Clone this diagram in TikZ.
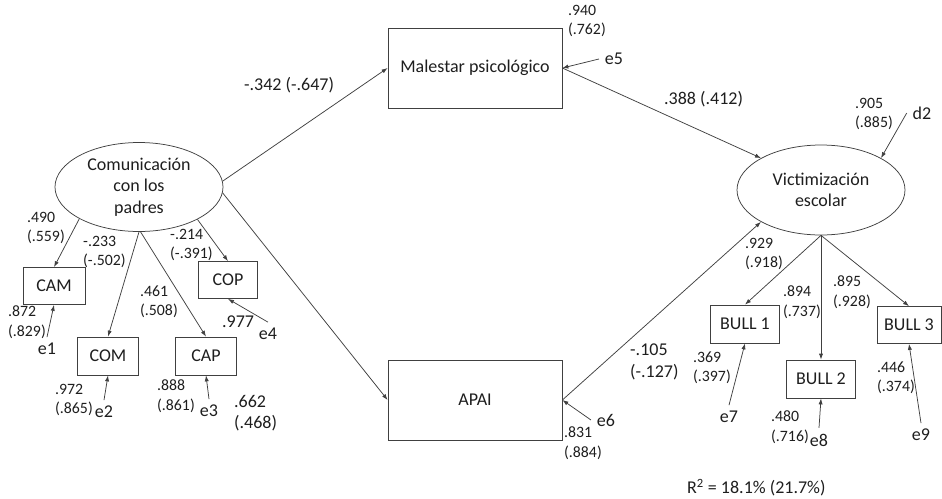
\documentclass[tikz,border=0pt]{standalone}
\usepackage{fontspec}
\setmainfont{Carlito}
\usetikzlibrary{arrows.meta,shapes.geometric}
\definecolor{ink}{HTML}{1E1E1E}
\definecolor{edge}{HTML}{404040}
\newcommand{\bigf}{\fontsize{18}{21.5}\selectfont}
\newcommand{\smallf}{\fontsize{15.8}{19.5}\selectfont}
\begin{document}
\begin{tikzpicture}[x=1pt,y=-1pt,
  every node/.style={text=ink},
  boxnode/.style={draw=edge, line width=0.75pt, inner sep=0pt, font=\bigf},
  latent/.style={draw=edge, line width=0.75pt, ellipse, inner sep=0pt, align=center, font=\bigf},
  conn/.style={draw=edge, line width=0.75pt, -{Latex[length=6pt,width=4.2pt]}},
  elabel/.style={font=\bigf, inner sep=2pt, outer sep=4pt},
  bignum/.style={font=\bigf, inner sep=0pt, align=left, anchor=west},
  smallnum/.style={font=\smallf, inner sep=0pt, align=left, anchor=west}
]
\useasboundingbox (0,0) rectangle (942,498);

% latent variables
\node[latent, minimum width=168pt, minimum height=89pt] (comm) at (139,187) {Comunicación\\con los\\padres};
\node[latent, minimum width=168pt, minimum height=90pt] (vic) at (821,190) {Victimización\\escolar};

% observed boxes
\node[boxnode, minimum width=62pt, minimum height=37pt] (cam) at (54,286) {CAM};
\node[boxnode, minimum width=59pt, minimum height=37pt] (cop) at (228,280) {COP};
\node[boxnode, minimum width=61pt, minimum height=38pt] (com) at (108,356) {COM};
\node[boxnode, minimum width=61pt, minimum height=38pt] (cap) at (206,356) {CAP};
\node[boxnode, minimum width=174pt, minimum height=80pt] (mal) at (475,68) {Malestar psicológico};
\node[boxnode, minimum width=174pt, minimum height=80pt] (apai) at (475,400) {APAI};
\node[boxnode, minimum width=69pt, minimum height=38pt] (b1) at (745,324) {BULL 1};
\node[boxnode, minimum width=69pt, minimum height=38pt] (b2) at (821,379) {BULL 2};
\node[boxnode, minimum width=64pt, minimum height=37pt] (b3) at (909,325) {BULL 3};

% error labels
\node[elabel] (e1) at (47,349) {e1};
\node[elabel] (e2) at (104,412) {e2};
\node[elabel] (e3) at (209,411) {e3};
\node[elabel] (e4) at (268,334) {e4};
\node[elabel] (e5) at (614,59) {e5};
\node[elabel] (e6) at (606,420) {e6};
\node[elabel] (e7) at (729,417) {e7};
\node[elabel] (e8) at (819,440) {e8};
\node[elabel] (e9) at (921,435) {e9};
\node[elabel] (d2) at (922,113) {d2};

% structural paths
\draw[conn] (comm.4) -- (mal.west);
\draw[conn] (comm.-4) -- (apai.west);
\draw[conn] (mal.east) -- (vic.152);
\draw[conn] (apai.east) -- (vic.208);
\draw[conn] (d2.west) -- (vic.28);

% measurement paths
\draw[conn] (comm.208) -- (cam.north);
\draw[conn] (comm.south) -- (com.north);
\draw[conn] (comm.-88) -- (cap.north);
\draw[conn] (comm.-29) -- (cop.north);
\draw[conn] (vic.south) -- (b1.north);
\draw[conn] (vic.south) -- (b2.north);
\draw[conn] (vic.south) -- (b3.north);

% error paths
\draw[conn] (e1.north) -- (cam.south);
\draw[conn] (e2.north) -- (com.south);
\draw[conn] (e3.north) -- (cap.south);
\draw[conn] (e4.north) -- (cop.south);
\draw[conn] (e5.west) -- (mal.east);
\draw[conn] (e6.west) -- (apai.east);
\draw[conn] (e7.north) -- (b1.south);
\draw[conn] (e8.north) -- (b2.south);
\draw[conn] (e9.north) -- (b3.south);

% coefficients
\node[bignum] (k1) at (244,85) {-.342 (-.647)};
\node[bignum] (k2) at (664,99) {.388 (.412)};
\node[bignum] (k3) at (234,413) {.662\\(.468)};
\node[bignum] (k4) at (630,362) {-.105\\(-.127)};
\node[bignum] (k5) at (222,322) {.977};

\node[smallnum] (s1) at (27,228) {.490\\(.559)};
\node[smallnum] (s2) at (83,252) {-.233\\(-.502)};
\node[smallnum] (s3) at (170,245) {-.214\\(-.391)};
\node[smallnum] (s4) at (140,302) {.461\\(.508)};
\node[smallnum] (s5) at (8,322) {.872\\(.829)};
\node[smallnum] (s6) at (55,400) {.972\\(.865)};
\node[smallnum] (s7) at (157,396) {.888\\(.861)};
\node[smallnum] (s8) at (568,21) {.940\\(.762)};
\node[smallnum] (s9) at (564,443) {.831\\(.884)};
\node[smallnum] (s10) at (855,114) {.905\\(.885)};
\node[smallnum] (s11) at (745,254) {.929\\(.918)};
\node[smallnum] (s12) at (783,302) {.894\\(.737)};
\node[smallnum] (s13) at (833,292) {.895\\(.928)};
\node[smallnum] (s14) at (693,368) {.369\\(.397)};
\node[smallnum] (s15) at (771,427) {.480\\(.716)};
\node[smallnum] (s16) at (877,378) {.446\\(.374)};

\node[bignum] (r2) at (687,488) {R\textsuperscript{2} = 18.1\% (21.7\%)};
\end{tikzpicture}
\end{document}
